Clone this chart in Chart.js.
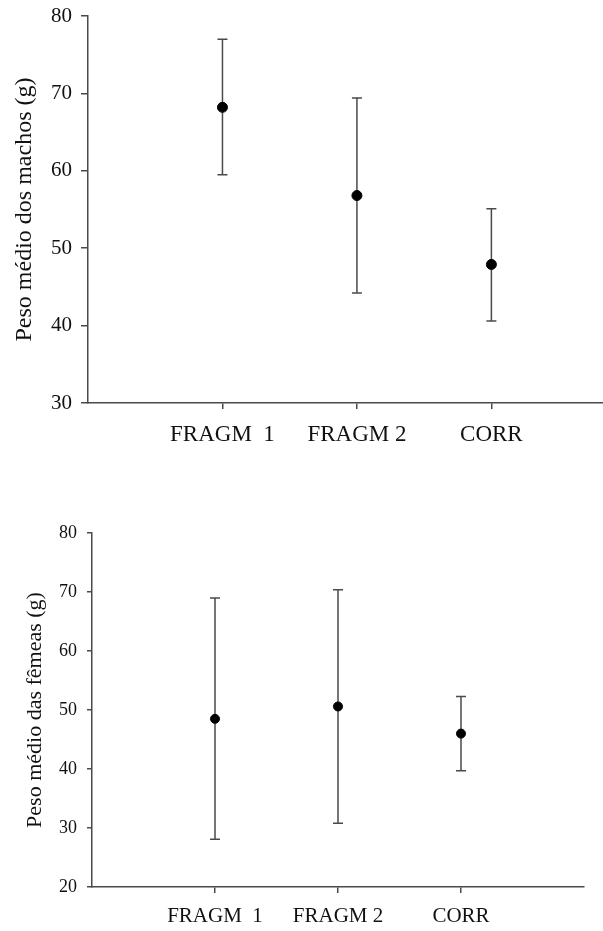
<!DOCTYPE html>
<html>
<head>
<meta charset="utf-8">
<script src="https://cdn.jsdelivr.net/npm/chart.js@4/dist/chart.umd.min.js"></script>
<style>
  html, body { margin: 0; padding: 0; background: #fff; }
  #wrap { position: relative; width: 603px; height: 931px; }
  canvas { position: absolute; left: 0; }
</style>
</head>
<body>
<div id="wrap">
  <canvas id="machos" width="603" height="460" style="top:0"></canvas>
  <canvas id="femeas" width="603" height="461" style="top:470px"></canvas>
</div>
<script>
// categorias e valores (média, limite superior e inferior)
const categories = ['FRAGM  1', 'FRAGM 2', 'CORR'];

const machosMean = [68.2, 56.8, 47.9];
const machosHigh = [77.0, 69.4, 55.1];
const machosLow = [59.5, 44.2, 40.6];

const femeasMean = [48.5, 50.6, 46.0];
const femeasHigh = [69.0, 70.4, 52.3];
const femeasLow = [28.1, 30.8, 39.7];

const machosTicks = [30, 40, 50, 60, 70, 80];
const femeasTicks = [20, 30, 40, 50, 60, 70, 80];

const axisColor = '#4a4a4a';
const serif = "'Liberation Serif', 'Times New Roman', serif";

// desenha as barras de erro usando as escalas do gráfico
const errorBars = {
    id: 'errorBars',
    beforeDatasetsDraw(chart, args, opts) {
        const ctx = chart.ctx;
        const xs = chart.scales.x, ys = chart.scales.y;
        ctx.save();
        ctx.strokeStyle = axisColor;
        ctx.lineWidth = 1.5;
        opts.high.forEach(function(hi, i) {
            const x = xs.getPixelForValue(i + 1);
            const yHi = ys.getPixelForValue(hi);
            const yLo = ys.getPixelForValue(opts.low[i]);
            ctx.beginPath();
            ctx.moveTo(x, yHi); ctx.lineTo(x, yLo);
            ctx.moveTo(x - opts.cap, yHi); ctx.lineTo(x + opts.cap, yHi);
            ctx.moveTo(x - opts.cap, yLo); ctx.lineTo(x + opts.cap, yLo);
            ctx.stroke();
        });
        ctx.restore();
    }
};

function makeChart(id, cfg) {
    const ctx = document.getElementById(id).getContext('2d');
    return new Chart(ctx, {
        type: 'scatter',
        data: {
            datasets: [{
                data: cfg.mean.map(function(v, i) { return { x: i + 1, y: v }; }),
                backgroundColor: '#000',
                borderColor: '#000',
                pointRadius: cfg.radius,
                pointHoverRadius: cfg.radius
            }]
        },
        options: {
            responsive: false,
            animation: false,
            layout: { padding: cfg.padding, autoPadding: false },
            scales: {
                x: {
                    type: 'linear',
                    min: 0,
                    max: cfg.xMax,
                    afterBuildTicks: function(scale) {
                        scale.ticks = categories.map(function(c, i) { return { value: i + 1 }; });
                    },
                    afterFit: function(scale) {
                        scale.height = cfg.xHeight;
                        scale.paddingLeft = 0;
                        scale.paddingRight = 0;
                    },
                    grid: { drawOnChartArea: false, color: axisColor, tickLength: 6, lineWidth: 1.5 },
                    border: { color: axisColor, width: 1.5 },
                    ticks: {
                        color: '#111',
                        padding: cfg.xPad,
                        maxRotation: 0,
                        font: { family: serif, size: cfg.catSize },
                        callback: function(v) { return categories[v - 1]; }
                    }
                },
                y: {
                    min: cfg.ticks[0],
                    max: cfg.ticks[cfg.ticks.length - 1],
                    afterBuildTicks: function(scale) {
                        scale.ticks = cfg.ticks.map(function(v) { return { value: v }; });
                    },
                    afterFit: function(scale) {
                        scale.width = cfg.yWidth;
                        scale.paddingTop = 0;
                        scale.paddingBottom = 0;
                    },
                    grid: { drawOnChartArea: false, color: axisColor, tickLength: cfg.yTick, lineWidth: 1.5 },
                    border: { color: axisColor, width: 1.5 },
                    ticks: {
                        color: '#111',
                        padding: cfg.yPad,
                        font: { family: serif, size: cfg.tickSize }
                    },
                    title: {
                        display: true,
                        text: cfg.title,
                        color: '#111',
                        padding: { top: cfg.titlePad, bottom: 0 },
                        font: { family: serif, size: cfg.titleSize }
                    }
                }
            },
            plugins: {
                legend: { display: false },
                tooltip: { enabled: false },
                errorBars: { high: cfg.high, low: cfg.low, cap: 5 }
            }
        },
        plugins: [errorBars]
    });
}

makeChart('machos', {
    mean: machosMean, high: machosHigh, low: machosLow, ticks: machosTicks,
    title: 'Peso médio dos machos (g)',
    radius: 5, xMax: 3.83, xHeight: 57, yWidth: 88, yTick: 7, xPad: 12, yPad: 9,
    padding: { top: 16, right: 0, left: 0, bottom: 0 },
    tickSize: 21, titleSize: 24, catSize: 23, titlePad: 10
});

makeChart('femeas', {
    mean: femeasMean, high: femeasHigh, low: femeasLow, ticks: femeasTicks,
    title: 'Peso médio das fêmeas (g)',
    radius: 4.5, xMax: 4, xHeight: 44, yWidth: 92, yTick: 5, xPad: 11, yPad: 10,
    padding: { top: 63, right: 19, left: 0, bottom: 0 },
    tickSize: 18, titleSize: 22, catSize: 21, titlePad: 22
});
</script>
</body>
</html>
